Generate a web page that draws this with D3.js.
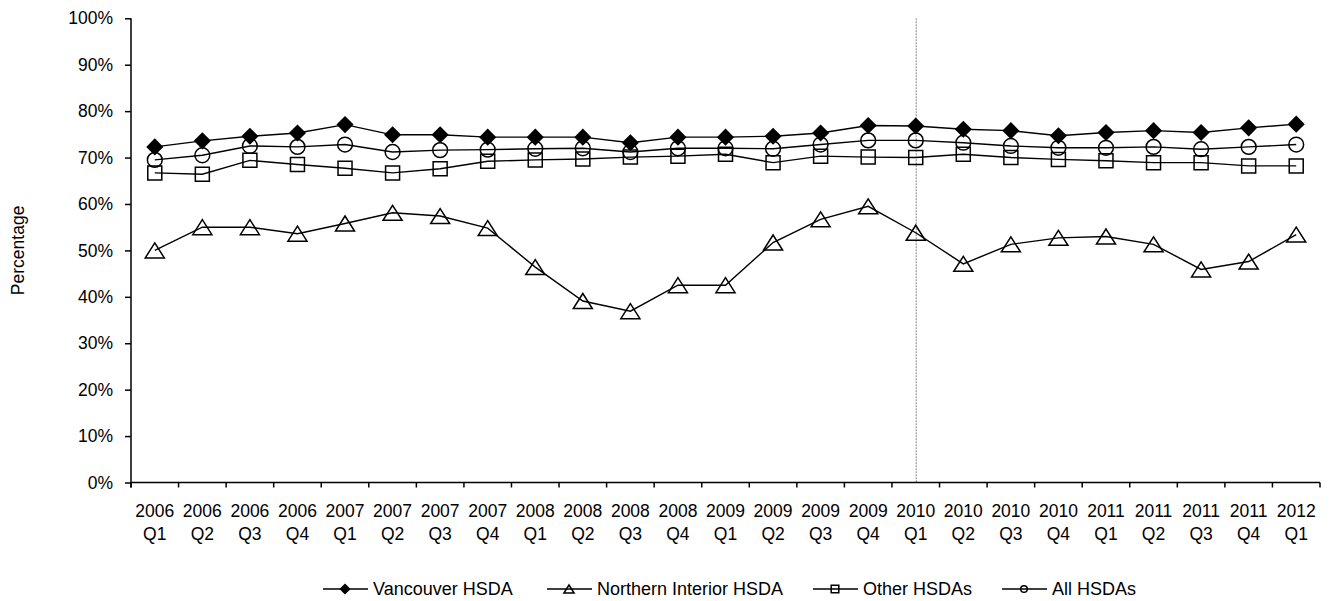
<!DOCTYPE html>
<html>
<head>
<meta charset="utf-8">
<script src="https://cdn.jsdelivr.net/npm/d3@7"></script>
<style>
  html, body { margin: 0; padding: 0; background: #fff; }
  svg { display: block; font-family: "Liberation Sans", Arial, sans-serif; }
</style>
</head>
<body>
<svg id="chart" width="1333" height="601"></svg>
<script>
// ---- data ----
const years    = ["2006","2006","2006","2006","2007","2007","2007","2007","2008","2008","2008","2008","2009","2009","2009","2009","2010","2010","2010","2010","2011","2011","2011","2011","2012"];
const quarters = ["Q1","Q2","Q3","Q4","Q1","Q2","Q3","Q4","Q1","Q2","Q3","Q4","Q1","Q2","Q3","Q4","Q1","Q2","Q3","Q4","Q1","Q2","Q3","Q4","Q1"];
const categories = years.map((y, i) => y + " " + quarters[i]);

const vancouver = [72.3, 73.6, 74.6, 75.3, 77.1, 74.9, 74.9, 74.4, 74.4, 74.4, 73.2, 74.4, 74.4, 74.6, 75.3, 76.9, 76.8, 76.1, 75.8, 74.7, 75.4, 75.8, 75.4, 76.4, 77.2];
const northern  = [50.0, 55.0, 55.0, 53.6, 55.8, 58.1, 57.4, 54.8, 46.4, 39.1, 36.9, 42.5, 42.5, 51.7, 56.7, 59.5, 53.8, 47.1, 51.3, 52.7, 53.0, 51.3, 45.9, 47.6, 53.4];
const other     = [66.7, 66.4, 69.4, 68.5, 67.7, 66.7, 67.6, 69.2, 69.5, 69.7, 70.1, 70.3, 70.7, 68.9, 70.3, 70.1, 70.0, 70.7, 70.0, 69.6, 69.3, 68.9, 68.9, 68.2, 68.2];
const allHsda   = [69.5, 70.5, 72.5, 72.3, 72.8, 71.2, 71.6, 71.7, 71.9, 72.0, 71.2, 72.0, 72.0, 71.9, 72.8, 73.7, 73.7, 73.2, 72.5, 72.1, 72.1, 72.3, 71.8, 72.3, 72.8];

const seriesNames = ["Vancouver HSDA", "Northern Interior HSDA", "Other HSDAs", "All HSDAs"];
const seriesMarkers = ["diamond", "triangle", "square", "circle"];
const yTicks = [0, 10, 20, 30, 40, 50, 60, 70, 80, 90, 100];
const markerCategory = "2010 Q1";
const yTitle = "Percentage";

// ---- layout ----
const svg = d3.select("#chart");
const plotLeft = 131, plotRight = 1320, plotTop = 18.3, plotBottom = 482.5;
const FONT = 17.5;

const x = d3.scaleBand().domain(categories).range([plotLeft, plotRight]).padding(0);
const y = d3.scaleLinear().domain([0, 100]).range([plotBottom, plotTop]);
const cx = c => x(c) + x.bandwidth() / 2;

// vertical reference line
svg.append("line")
  .attr("x1", cx(markerCategory) + 0.5).attr("x2", cx(markerCategory) + 0.5)
  .attr("y1", plotTop).attr("y2", plotBottom)
  .attr("stroke", "#9a9a9a").attr("stroke-width", 1.2).attr("stroke-dasharray", "2,1");

// y axis
const yAxis = d3.axisLeft(y).tickValues(yTicks).tickSize(6).tickPadding(12)
  .tickFormat(d => d + "%");
const gy = svg.append("g").attr("transform", `translate(${plotLeft},0)`).call(yAxis);
gy.select(".domain").attr("d", `M0,${plotTop}V${plotBottom + 5}`).attr("stroke", "#000").attr("stroke-width", 1.5);
gy.selectAll(".tick line").attr("stroke", "#000").attr("stroke-width", 1.5);
gy.selectAll(".tick text").attr("font-size", FONT).attr("fill", "#000")
  .attr("font-family", "Liberation Sans, Arial, sans-serif");

// x axis: ticks at category boundaries
const boundaries = categories.map(c => x(c)).concat([plotRight]);
const gx = svg.append("g");
gx.append("line").attr("x1", plotLeft).attr("x2", plotRight).attr("y1", plotBottom).attr("y2", plotBottom)
  .attr("stroke", "#000").attr("stroke-width", 1.5);
gx.selectAll("line.tk").data(boundaries).join("line").attr("class", "tk")
  .attr("x1", d => d).attr("x2", d => d).attr("y1", plotBottom).attr("y2", plotBottom + 5)
  .attr("stroke", "#000").attr("stroke-width", 1.5);
const lbl = gx.selectAll("text.cat").data(categories).join("text").attr("class", "cat")
  .attr("text-anchor", "middle").attr("font-size", FONT).attr("fill", "#000");
lbl.append("tspan").attr("x", d => cx(d)).attr("y", 516.5).text((d, i) => years[i]);
lbl.append("tspan").attr("x", d => cx(d)).attr("y", 540).text((d, i) => quarters[i]);

// y title
svg.append("text").attr("transform", `translate(24,${(plotTop + plotBottom) / 2}) rotate(-90)`)
  .attr("text-anchor", "middle").attr("font-size", FONT).attr("fill", "#000").text(yTitle);

// markers
function markerPath(type, s) {
  if (type === "diamond") return `M0,${-s}L${s},0L0,${s}L${-s},0Z`;
  if (type === "triangle") { const w = s * 1.27, h = s; return `M0,${-h}L${w},${h}L${-w},${h}Z`; }
  if (type === "square") return `M${-s},${-s}H${s}V${s}H${-s}Z`;
  return null;
}
function drawMarker(g, type, px, py, size) {
  if (type === "circle") {
    g.append("ellipse").attr("cx", px).attr("cy", py).attr("rx", size).attr("ry", size)
      .attr("fill", "none").attr("stroke", "#000").attr("stroke-width", 1.5);
  } else {
    g.append("path").attr("d", markerPath(type, size)).attr("transform", `translate(${px},${py})`)
      .attr("fill", type === "diamond" ? "#000" : "none")
      .attr("stroke", "#000").attr("stroke-width", 1.5).attr("stroke-linejoin", "miter");
  }
}

const seriesData = [vancouver, northern, other, allHsda];
const line = d3.line().x((d, i) => cx(categories[i])).y(d => y(d));
const markerSizes = { diamond: 7.5, triangle: 7.5, square: 7, circle: 7.4 };

seriesData.forEach((vals, si) => {
  const g = svg.append("g");
  g.append("path").datum(vals).attr("d", line).attr("fill", "none")
    .attr("stroke", "#000").attr("stroke-width", 1.4);
  vals.forEach((v, i) => {
    drawMarker(g, seriesMarkers[si], cx(categories[i]), y(v), markerSizes[seriesMarkers[si]]);
  });
});

// legend
const legendX = [323, 547, 813, 1002];
const legendY = 589;
const legendMarkerSizes = { diamond: 4.5, triangle: 4, square: 3.8, circle: 3.3 };
seriesNames.forEach((name, i) => {
  const g = svg.append("g");
  const lx = legendX[i];
  g.append("line").attr("x1", lx).attr("x2", lx + 45).attr("y1", legendY).attr("y2", legendY)
    .attr("stroke", "#000").attr("stroke-width", 1.5);
  drawMarker(g, seriesMarkers[i], lx + 22, legendY, legendMarkerSizes[seriesMarkers[i]]);
  g.append("text").attr("x", lx + 50).attr("y", legendY + 6).attr("font-size", FONT + 0.5)
    .attr("fill", "#000").text(name);
});
</script>
</body>
</html>
